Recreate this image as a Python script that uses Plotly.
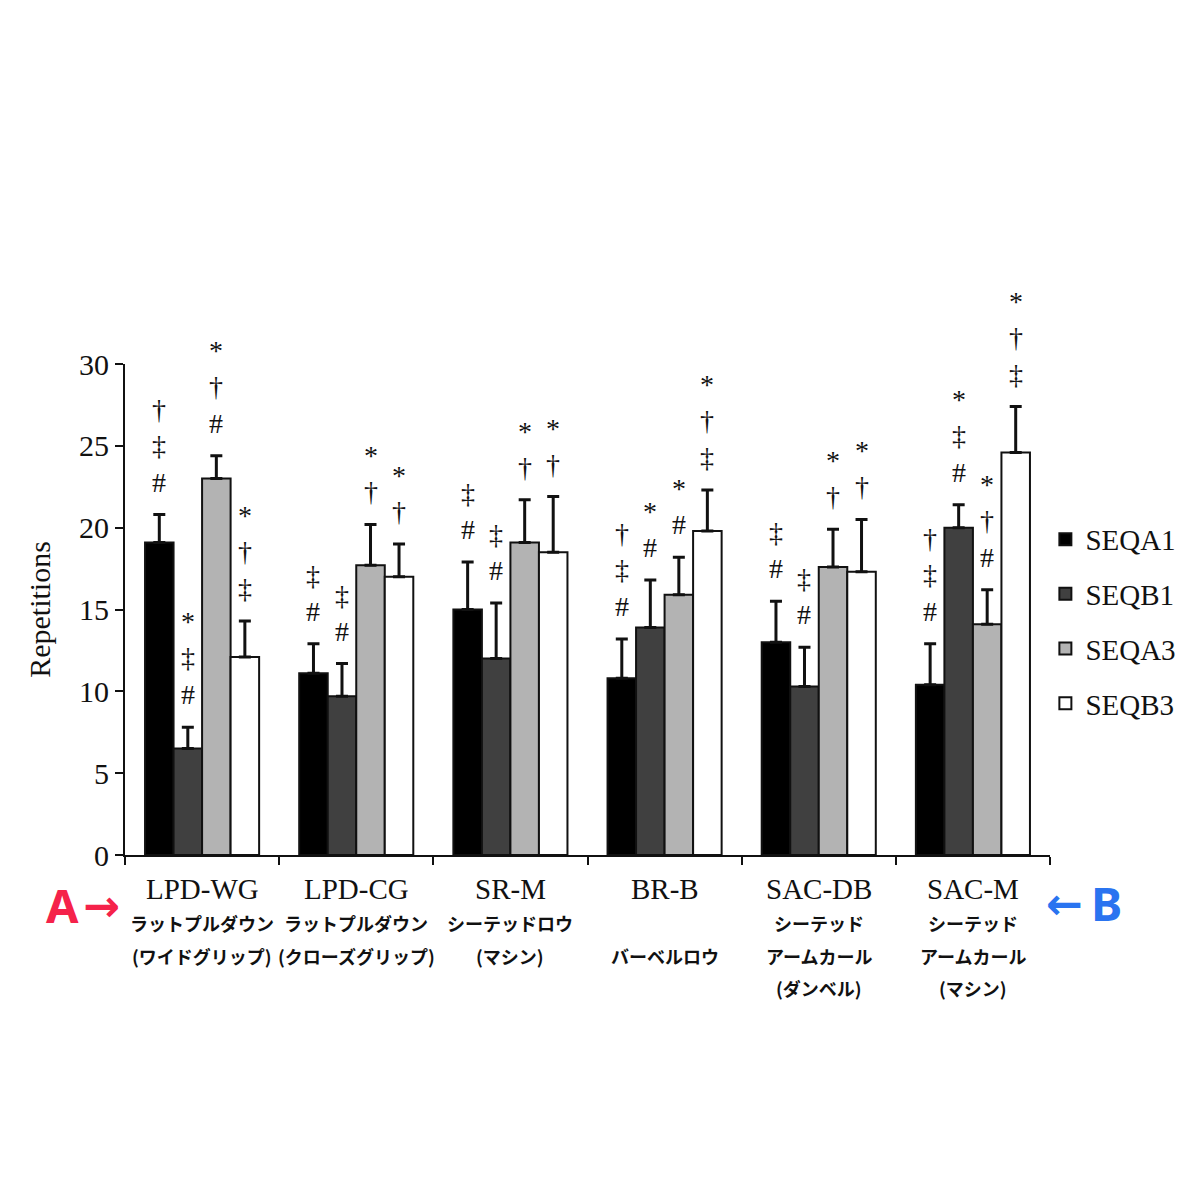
import plotly.graph_objects as go

categories = ["LPD-WG", "LPD-CG", "SR-M", "BR-B", "SAC-DB", "SAC-M"]
jp_labels = [
    ["ラットプルダウン", "(ワイドグリップ)"],
    ["ラットプルダウン", "(クローズグリップ)"],
    ["シーテッドロウ", "(マシン)"],
    ["", "バーベルロウ"],
    ["シーテッド", "アームカール", "(ダンベル)"],
    ["シーテッド", "アームカール", "(マシン)"],
]
series_names = ["SEQA1", "SEQB1", "SEQA3", "SEQB3"]
means = {
    "SEQA1": [19.1, 11.1, 15.0, 10.8, 13.0, 10.4],
    "SEQB1": [6.5, 9.7, 12.0, 13.9, 10.3, 20.0],
    "SEQA3": [23.0, 17.7, 19.1, 15.9, 17.6, 14.1],
    "SEQB3": [12.1, 17.0, 18.5, 19.8, 17.3, 24.6],
}
sds = {
    "SEQA1": [1.7, 1.8, 2.9, 2.4, 2.5, 2.5],
    "SEQB1": [1.3, 2.0, 3.4, 2.9, 2.4, 1.4],
    "SEQA3": [1.4, 2.5, 2.6, 2.3, 2.3, 2.1],
    "SEQB3": [2.2, 2.0, 3.4, 2.5, 3.2, 2.8],
}
marks = {
    "SEQA1": [["†", "‡", "#"], ["‡", "#"], ["‡", "#"], ["†", "‡", "#"], ["‡", "#"], ["†", "‡", "#"]],
    "SEQB1": [["*", "‡", "#"], ["‡", "#"], ["‡", "#"], ["*", "#"], ["‡", "#"], ["*", "‡", "#"]],
    "SEQA3": [["*", "†", "#"], ["*", "†"], ["*", "†"], ["*", "#"], ["*", "†"], ["*", "†", "#"]],
    "SEQB3": [["*", "†", "‡"], ["*", "†"], ["*", "†"], ["*", "†", "‡"], ["*", "†"], ["*", "†", "‡"]],
}
colors = {"SEQA1": "#000000", "SEQB1": "#404040", "SEQA3": "#b3b3b3", "SEQB3": "#ffffff"}

serif = "Liberation Serif"
bargap = 0.26

fig = go.Figure()
for name in series_names:
    fig.add_trace(go.Bar(
        x=categories, y=means[name], name=name,
        marker=dict(color=colors[name], line=dict(color="#111", width=2)),
        error_y=dict(type="data", symmetric=False, array=sds[name],
                     arrayminus=[0] * len(categories),
                     color="#111", thickness=3, width=6),
        legendgroup=name,
    ))

annotations = []
n = len(series_names)
gw = 1 - bargap
for j, name in enumerate(series_names):
    off = -gw / 2 + (j + 0.5) * gw / n
    for i, cat in enumerate(categories):
        top = means[name][i] + sds[name][i]
        annotations.append(dict(
            x=i + off, y=top, xref="x", yref="y",
            text="<br>".join(marks[name][i]), showarrow=False,
            yanchor="bottom", yshift=15,
            font=dict(family=serif, size=28, color="#111"),
        ))

for i, cat in enumerate(categories):
    annotations.append(dict(
        x=i, y=-0.07, xref="x", yref="paper", text=cat, showarrow=False,
        yanchor="middle", font=dict(family=serif, size=29, color="#111"),
    ))
    for k, line in enumerate(jp_labels[i]):
        if not line:
            continue
        annotations.append(dict(
            x=i, y=-0.139 - k * 0.066, xref="x", yref="paper", text="<b>" + line + "</b>",
            showarrow=False, yanchor="middle",
            font=dict(family="Noto Sans CJK JP", size=18, color="#111"),
        ))

red = "#f5224a"
blue = "#2a74f0"
annotations += [
    dict(x=-0.068, y=-0.102, xref="paper", yref="paper", text="<b>A</b>",
         showarrow=False, xanchor="center", yanchor="middle",
         font=dict(family="Noto Sans", size=47, color=red)),
    dict(x=-0.025, y=-0.102, xref="paper", yref="paper", text="<b>→</b>",
         showarrow=False, xanchor="center", yanchor="middle",
         font=dict(family="DejaVu Sans", size=44, color=red)),
    dict(x=1.0155, y=-0.098, xref="paper", yref="paper", text="<b>←</b>",
         showarrow=False, xanchor="center", yanchor="middle",
         font=dict(family="DejaVu Sans", size=44, color=blue)),
    dict(x=1.0616, y=-0.098, xref="paper", yref="paper", text="<b>B</b>",
         showarrow=False, xanchor="center", yanchor="middle",
         font=dict(family="Noto Sans", size=47, color=blue)),
]

fig.update_layout(
    width=1200, height=1200,
    paper_bgcolor="white", plot_bgcolor="white",
    margin=dict(l=117, r=158, t=356, b=353),
    barmode="group", bargap=bargap, bargroupgap=0,
    showlegend=True,
    legend=dict(x=0.995, xanchor="left", y=0.476, yanchor="middle",
                font=dict(family=serif, size=29, color="#111"),
                tracegroupgap=14, itemwidth=30),
    xaxis=dict(showline=True, linecolor="#111", linewidth=2,
               ticks="outside", tickson="boundaries", ticklen=8, tickwidth=2,
               tickcolor="#111", showticklabels=False, showgrid=False,
               range=[-0.5, 5.5]),
    yaxis=dict(range=[0, 30], tickvals=[0, 5, 10, 15, 20, 25, 30],
               showline=True, linecolor="#111", linewidth=2,
               ticks="outside", ticklen=8, tickwidth=2, tickcolor="#111",
               showgrid=False, zeroline=False,
               tickfont=dict(family=serif, size=30, color="#111"),
               title=dict(text="Repetitions", font=dict(family=serif, size=30, color="#111"),
                          standoff=20)),
    annotations=annotations,
)

fig.write_html("out.html")
